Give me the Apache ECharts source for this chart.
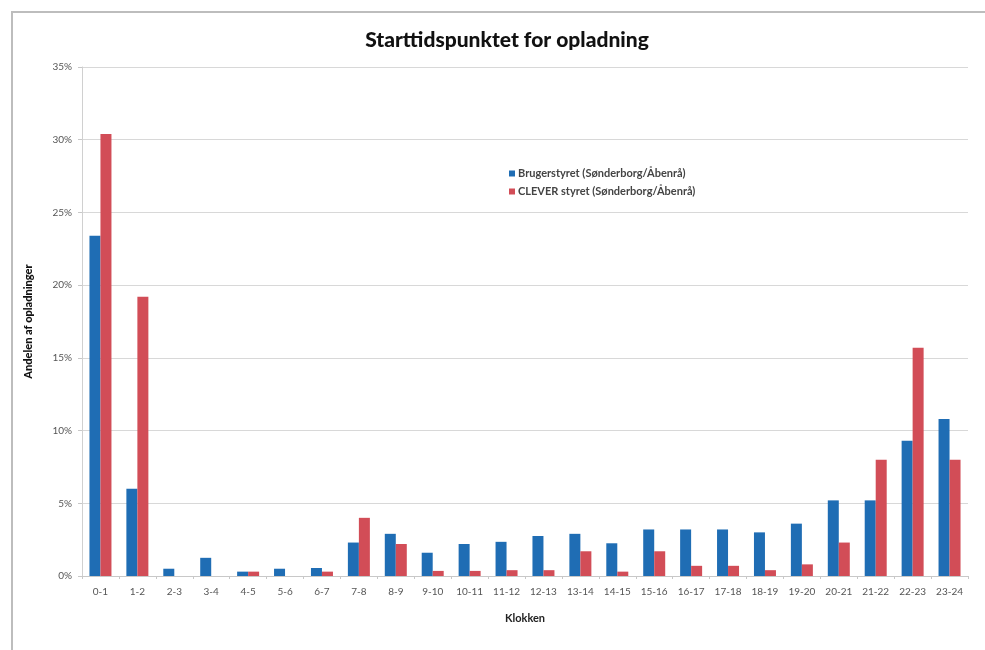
<!DOCTYPE html>
<html>
<head>
<meta charset="utf-8">
<script src="https://cdn.jsdelivr.net/npm/echarts@6/dist/echarts.min.js"></script>
<style>
  html, body { margin: 0; padding: 0; background: #ffffff; }
  #chart { width: 985px; height: 650px; }
</style>
</head>
<body>
<div id="chart"></div>
<script>
// Hour-of-day intervals
const hours = ['0-1','1-2','2-3','3-4','4-5','5-6','6-7','7-8','8-9','9-10','10-11','11-12',
  '12-13','13-14','14-15','15-16','16-17','17-18','18-19','19-20','20-21','21-22','22-23','23-24'];

// Share of charging sessions started in each hour (%)
const brugerstyret = [23.4, 6.0, 0.5, 1.25, 0.3, 0.5, 0.55, 2.3, 2.9, 1.6, 2.2, 2.35,
  2.75, 2.9, 2.25, 3.2, 3.2, 3.2, 3.0, 3.6, 5.2, 5.2, 9.3, 10.8];
const cleverStyret = [30.4, 19.2, 0, 0, 0.3, 0, 0.3, 4.0, 2.2, 0.35, 0.35, 0.4,
  0.4, 1.7, 0.3, 1.7, 0.7, 0.7, 0.4, 0.8, 2.3, 8.0, 15.7, 8.0];

const seriesNames = ['Brugerstyret (Sønderborg/Åbenrå)', 'CLEVER styret (Sønderborg/Åbenrå)'];

const chart = echarts.init(document.getElementById('chart'));
const font = 'Lato, "Open Sans", sans-serif';

chart.setOption({
  animation: false,
  backgroundColor: '#ffffff',
  textStyle: { fontFamily: font },
  graphic: [
    {
      type: 'polyline',
      shape: { points: [[12, 650], [12, 12], [985, 12]] },
      style: { stroke: '#bdbdbd', lineWidth: 2, fill: null }
    }
  ],
  title: {
    text: 'Starttidspunktet for opladning',
    left: 502,
    top: 25,
    textAlign: 'center',
    textStyle: { fontFamily: font, fontSize: 21, fontWeight: 900, color: '#111' }
  },
  legend: {
    orient: 'vertical',
    left: 504,
    top: 163,
    itemWidth: 6,
    itemHeight: 6,
    itemGap: 7,
    icon: 'rect',
    textStyle: { fontFamily: font, fontSize: 11, fontWeight: 'bold', color: '#444', padding: [0, 0, 0, -2] },
    data: seriesNames
  },
  grid: { left: 82, right: 17, top: 67, bottom: 74, containLabel: false },
  xAxis: {
    type: 'category',
    data: hours,
    name: 'Klokken',
    nameLocation: 'middle',
    nameGap: 37,
    nameTextStyle: { fontFamily: font, fontSize: 11, fontWeight: 'bold', color: '#222' },
    axisLine: { lineStyle: { color: '#c8c8c8' } },
    axisTick: { show: true, length: 3, lineStyle: { color: '#c8c8c8' } },
    axisLabel: { fontSize: 10, color: '#555', margin: 11, interval: 0 }
  },
  yAxis: {
    type: 'value',
    min: 0,
    max: 35,
    interval: 5,
    name: 'Andelen af opladninger',
    nameLocation: 'middle',
    nameGap: 48,
    nameRotate: 90,
    nameTextStyle: { fontFamily: font, fontSize: 11, fontWeight: 900, color: '#111' },
    axisLine: { show: true, lineStyle: { color: '#d0d0d0' } },
    axisTick: { show: true, length: 4, lineStyle: { color: '#c8c8c8' } },
    axisLabel: { formatter: '{value}%', fontSize: 10, color: '#555', margin: 10 },
    splitLine: { lineStyle: { color: '#d8d8d8', width: 1 } }
  },
  series: [
    {
      name: seriesNames[0],
      type: 'bar',
      data: brugerstyret,
      barWidth: 11,
      barGap: '0%',
      itemStyle: { color: '#1f6db4' }
    },
    {
      name: seriesNames[1],
      type: 'bar',
      data: cleverStyret,
      barWidth: 11,
      barGap: '0%',
      itemStyle: { color: '#d24d57' }
    }
  ]
});
</script>
</body>
</html>
